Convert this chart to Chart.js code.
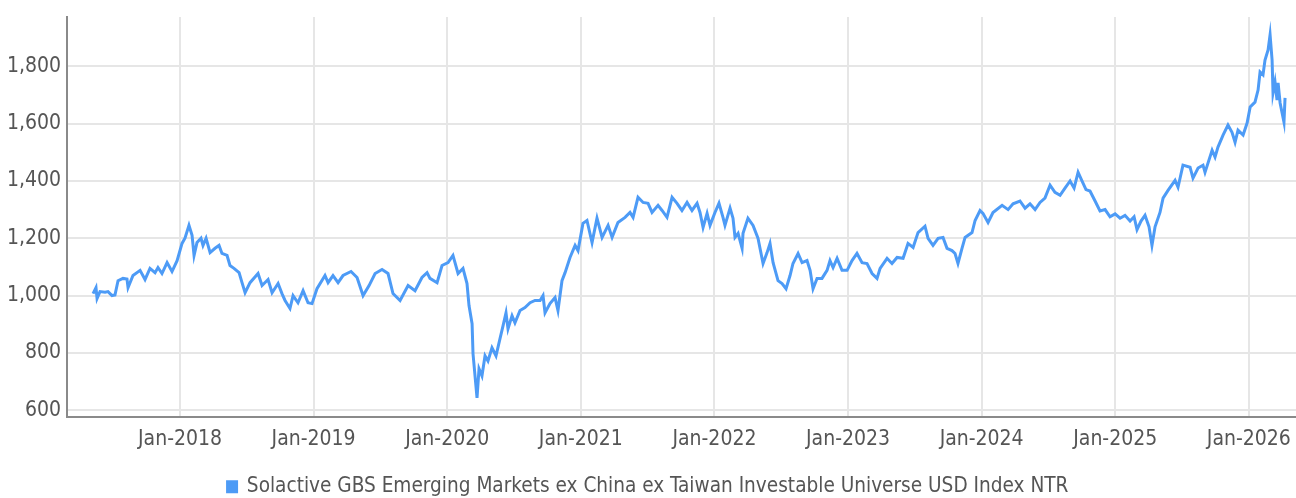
<!DOCTYPE html>
<html>
<head>
<meta charset="utf-8">
<script src="https://cdn.jsdelivr.net/npm/chart.js@4.4.1/dist/chart.umd.min.js"></script>
<style>
  html, body { margin: 0; padding: 0; background: #fff; }
  #wrap { width: 1296px; height: 498px; position: relative; }
</style>
</head>
<body>
<div id="wrap"><canvas id="idx-chart"></canvas></div>
<script>
// dates as decimal years (2018.0 = Jan-2018)
const dates = [
  2017.349, 2017.371, 2017.379, 2017.401, 2017.439, 2017.461, 2017.491, 2017.513, 2017.536, 2017.573,
  2017.603, 2017.611, 2017.648, 2017.701, 2017.738, 2017.775, 2017.813, 2017.835, 2017.865, 2017.903,
  2017.940, 2017.978, 2018.015, 2018.037, 2018.067, 2018.090, 2018.105, 2018.127, 2018.157, 2018.172,
  2018.195, 2018.225, 2018.262, 2018.292, 2018.314, 2018.352, 2018.374, 2018.404, 2018.442, 2018.464,
  2018.487, 2018.524, 2018.584, 2018.614, 2018.659, 2018.689, 2018.734, 2018.763, 2018.786, 2018.823,
  2018.846, 2018.883, 2018.921, 2018.958, 2018.988, 2019.025, 2019.085, 2019.108, 2019.145, 2019.183,
  2019.220, 2019.280, 2019.325, 2019.370, 2019.415, 2019.460, 2019.512, 2019.557, 2019.594, 2019.647,
  2019.707, 2019.759, 2019.811, 2019.849, 2019.871, 2019.924, 2019.961, 2020.006, 2020.043, 2020.081,
  2020.118, 2020.148, 2020.163, 2020.186, 2020.193, 2020.223, 2020.238, 2020.260, 2020.283, 2020.305,
  2020.335, 2020.365, 2020.395, 2020.418, 2020.440, 2020.455, 2020.485, 2020.507, 2020.545, 2020.582,
  2020.620, 2020.657, 2020.695, 2020.717, 2020.732, 2020.769, 2020.807, 2020.829, 2020.859, 2020.882,
  2020.919, 2020.957, 2020.979, 2021.016, 2021.046, 2021.084, 2021.121, 2021.159, 2021.204, 2021.234,
  2021.278, 2021.331, 2021.368, 2021.391, 2021.428, 2021.466, 2021.503, 2021.533, 2021.578, 2021.608,
  2021.645, 2021.683, 2021.720, 2021.757, 2021.795, 2021.832, 2021.870, 2021.892, 2021.915, 2021.945,
  2021.967, 2022.004, 2022.034, 2022.064, 2022.079, 2022.117, 2022.139, 2022.154, 2022.177, 2022.207,
  2022.214, 2022.251, 2022.289, 2022.326, 2022.364, 2022.394, 2022.416, 2022.439, 2022.476, 2022.506,
  2022.536, 2022.566, 2022.588, 2022.626, 2022.656, 2022.693, 2022.716, 2022.738, 2022.768, 2022.805,
  2022.843, 2022.865, 2022.888, 2022.918, 2022.955, 2022.993, 2023.030, 2023.067, 2023.105, 2023.142,
  2023.180, 2023.217, 2023.240, 2023.292, 2023.329, 2023.367, 2023.412, 2023.449, 2023.487, 2023.524,
  2023.576, 2023.599, 2023.636, 2023.674, 2023.711, 2023.741, 2023.778, 2023.801, 2023.823, 2023.853,
  2023.876, 2023.928, 2023.951, 2023.988, 2024.010, 2024.048, 2024.085, 2024.153, 2024.198, 2024.235,
  2024.287, 2024.325, 2024.362, 2024.400, 2024.437, 2024.474, 2024.512, 2024.549, 2024.587, 2024.624,
  2024.662, 2024.692, 2024.722, 2024.751, 2024.781, 2024.811, 2024.849, 2024.886, 2024.924, 2024.961,
  2024.999, 2025.036, 2025.073, 2025.111, 2025.141, 2025.163, 2025.193, 2025.223, 2025.253, 2025.275,
  2025.298, 2025.335, 2025.358, 2025.395, 2025.448, 2025.470, 2025.507, 2025.560, 2025.582, 2025.620,
  2025.657, 2025.672, 2025.725, 2025.747, 2025.769, 2025.807, 2025.844, 2025.874, 2025.897, 2025.919,
  2025.957, 2025.987, 2026.010, 2026.046, 2026.069, 2026.084, 2026.106, 2026.121, 2026.144, 2026.159,
  2026.174, 2026.181, 2026.196, 2026.211, 2026.219, 2026.234, 2026.263, 2026.271
];

const indexValues = [
  1007, 1028, 990, 1014, 1012, 1014, 1000, 1002, 1052, 1060,
  1058, 1028, 1070, 1088, 1056, 1095, 1080, 1098, 1077, 1115,
  1084, 1122, 1182, 1200, 1245, 1210, 1140, 1185, 1200, 1175,
  1200, 1150, 1165, 1175, 1147, 1140, 1105, 1095, 1080, 1045,
  1010, 1045, 1077, 1035, 1056, 1010, 1042, 1007, 983, 955,
  1000, 975, 1017, 975, 972, 1024, 1070, 1045, 1070, 1045,
  1070, 1084, 1063, 1000, 1035, 1077, 1091, 1077, 1007, 983,
  1035, 1017, 1063, 1080, 1060, 1045, 1105, 1115, 1140, 1077,
  1095, 1042, 965, 902, 797, 643, 745, 720, 790, 772,
  818, 790, 850, 895, 940, 884, 930, 905, 948, 958,
  975, 983, 983, 1000, 940, 972, 993, 948, 1052, 1080,
  1133, 1175, 1157, 1252, 1262, 1185, 1270, 1203, 1245, 1203,
  1255, 1273, 1290, 1273, 1343, 1325, 1322, 1290, 1315, 1297,
  1273, 1343, 1322, 1297, 1325, 1297, 1322, 1290, 1238, 1287,
  1245, 1290, 1322, 1273, 1245, 1305, 1270, 1203, 1217, 1165,
  1217, 1270, 1245, 1200, 1112, 1150, 1182, 1115, 1052, 1042,
  1024, 1070, 1112, 1147, 1115, 1122, 1088, 1024, 1060, 1060,
  1088, 1122, 1098, 1130, 1088, 1088, 1122, 1147, 1115, 1112,
  1077, 1060, 1095, 1130, 1112, 1133, 1130, 1182, 1168, 1220,
  1242, 1200, 1175, 1200, 1203, 1165, 1157, 1147, 1112, 1165,
  1203, 1220, 1262, 1297, 1287, 1255, 1290, 1315, 1300, 1320,
  1330, 1305, 1320, 1300, 1325, 1340, 1385, 1360, 1350, 1375,
  1400, 1375, 1430, 1400, 1370, 1365, 1330, 1295, 1300, 1275,
  1285, 1270, 1280, 1260, 1275, 1230, 1260, 1280, 1240, 1175,
  1240, 1290, 1340, 1367, 1402, 1378, 1455, 1448, 1410, 1445,
  1455, 1430, 1507, 1483, 1518, 1560, 1595, 1570, 1535, 1577,
  1560, 1602, 1658, 1675, 1717, 1780, 1770, 1822, 1857, 1910,
  1822, 1707, 1745, 1682, 1742, 1672, 1605, 1690
];

const yearTicks = [2018, 2019, 2020, 2021, 2022, 2023, 2024, 2025, 2026];
const valueTicks = [600, 800, 1000, 1200, 1400, 1600, 1800];
const seriesName = "Solactive GBS Emerging Markets ex China ex Taiwan Investable Universe USD Index NTR";

const lineColor = "#4d9bf6";
const textColor = "#555555";

Chart.defaults.font.family = "'Liberation Sans Narrow', 'Arial Narrow', 'DejaVu Sans Condensed', 'Roboto', sans-serif";
Chart.defaults.font.size = 21;
Chart.defaults.color = textColor;

new Chart("idx-chart", {
  type: "line",
  data: {
    datasets: [
      {
        label: seriesName,
        data: dates.map((d, i) => ({ x: d, y: indexValues[i] })),
        borderColor: lineColor,
        backgroundColor: lineColor,
        borderWidth: 3,
        pointRadius: 0,
        tension: 0,
        fill: false,
      },
    ],
  },
  options: {
    responsive: true,
    maintainAspectRatio: false,
    animation: false,
    layout: { padding: { top: 17, left: 0, right: 0, bottom: -9 } },
    plugins: {
      tooltip: { enabled: false },
      legend: {
        display: true,
        position: "bottom",
        labels: {
          boxWidth: 9,
          boxHeight: 10,
          padding: 10,
          color: textColor,
          font: { size: 20.6 },
        },
      },
    },
    scales: {
      x: {
        type: "linear",
        min: 2017.154,
        max: 2026.353,
        afterBuildTicks: (scale) => { scale.ticks = yearTicks.map(v => ({ value: v })); },
        afterFit: (scale) => {
          scale.height = 49;
          // let the last label run to the canvas edge, as in the original
          scale.paddingLeft = 0;
          scale.paddingRight = 0;
        },
        ticks: {
          autoSkip: false,
          maxRotation: 0,
          padding: 10,
          color: textColor,
          callback: (v) => "Jan-" + v,
        },
        grid: { color: "#e6e6e6", lineWidth: 2, drawTicks: false },
        border: { color: "#8a8a8a", width: 2 },
      },
      y: {
        min: 575,
        max: 1972,
        afterBuildTicks: (scale) => { scale.ticks = valueTicks.map(v => ({ value: v })); },
        afterFit: (scale) => {
          scale.width = 67;
          scale.paddingTop = 0;
          scale.paddingBottom = 0;
        },
        ticks: {
          padding: 6,
          color: textColor,
          callback: (v) => v.toLocaleString("en-US"),
        },
        grid: { color: "#e6e6e6", lineWidth: 2, drawTicks: false },
        border: { color: "#8a8a8a", width: 2 },
      },
    },
  },
});
</script>
</body>
</html>
